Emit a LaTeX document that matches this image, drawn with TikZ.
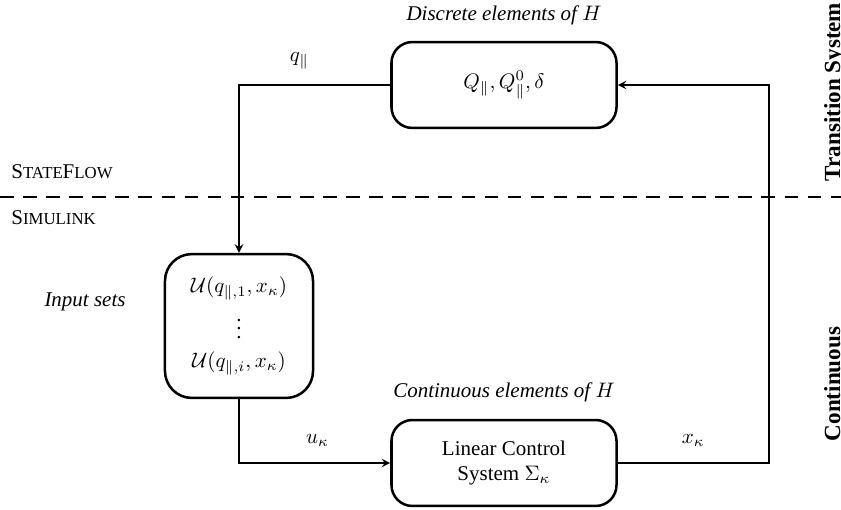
\documentclass[tikz,border=0pt]{standalone}
\usepackage[no-math]{fontspec}
\setmainfont{Liberation Serif}
\usepackage{amsmath}
\newcommand{\fakesmallcaps}[1]{{\footnotesize #1}}
\begin{document}
\begin{tikzpicture}[
    x=0.01675cm, y=-0.01675cm,
    box/.style={rectangle, draw, line width=1.2pt, rounded corners=0.35cm, minimum width=3.77cm, minimum height=1.44cm, align=center},
    setbox/.style={box, rounded corners=0.45cm, minimum width=2.48cm, minimum height=2.41cm},
    arrow/.style={->, >=stealth, thick},
    note/.style={font=\itshape},
    side/.style={rotate=90, anchor=base, font=\fontsize{11}{13}\selectfont\bfseries}
  ]
    \useasboundingbox (0,0) rectangle (841,510);

    % discrete part
    \node[box] (disc) at (504,85) {$Q_{\|}, Q_{\|}^{0}, \delta$};
    \node[note] (disclabel) at (504,15) {Discrete elements of $H$};

    % input sets
    \node[setbox] (inp) at (239,326) {$\mathcal{U}(q_{\|,1}, x_\kappa)$ \\[2pt] $\vdots$ \\[2pt] $\mathcal{U}(q_{\|,i}, x_\kappa)$};
    \node[note] (inplabel) at (85,302) {Input sets};

    % continuous part
    \node[box] (cont) at (504,463) {Linear Control \\ System $\Sigma_\kappa$};
    \node[note] (contlabel) at (504,392) {Continuous elements of $H$};

    % separator
    \draw[line width=1.2pt, dash pattern=on 6.5pt off 4.5pt] (0,197) -- (841,197);
    \node[anchor=base west] (sf) at (4,178) {S\fakesmallcaps{TATE}F\fakesmallcaps{LOW}};
    \node[anchor=base west] (sl) at (4,224) {S\fakesmallcaps{IMULINK}};

    % side labels
    \node[side] (ts) at (840,92) {Transition System};
    \node[side] (cs) at (840,384) {Continuous};

    % arrows
    \draw[arrow] (disc.west) -| node[pos=0.3, above=4pt] {$q_{\|}$} (inp.north);
    \draw[arrow] (inp.south) |- node[pos=0.76, above=4pt] {$u_\kappa$} (cont.west);
    \draw[arrow] (cont.east) -- node[midway, above=4pt] {$x_\kappa$} ++(151,0) |- (disc.east);
  \end{tikzpicture}
\end{document}
